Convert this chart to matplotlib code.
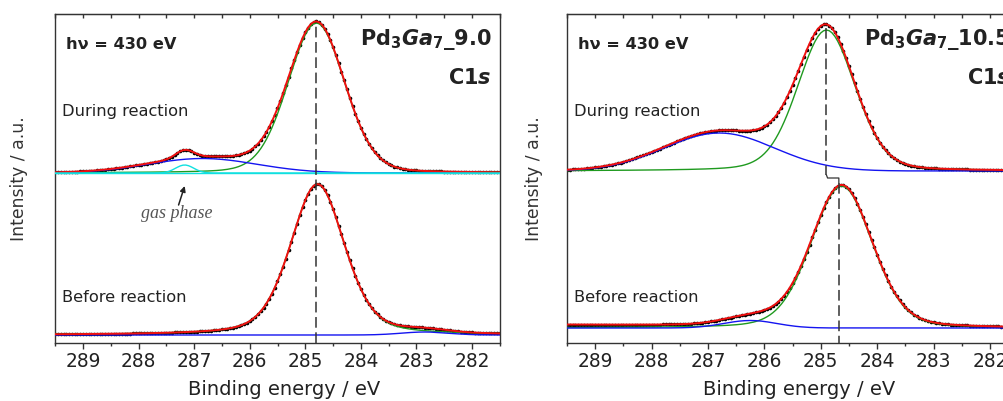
import numpy as np
import matplotlib.pyplot as plt
from matplotlib.ticker import MultipleLocator

plt.rcParams['font.family'] = ['DejaVu Sans']
plt.rcParams['mathtext.fontset'] = 'custom'
plt.rcParams['mathtext.rm'] = 'DejaVu Sans'
plt.rcParams['mathtext.bf'] = 'DejaVu Sans:bold'
plt.rcParams['mathtext.it'] = 'DejaVu Sans:italic'
plt.rcParams['mathtext.bfit'] = 'DejaVu Sans:italic:bold'

# binding energy window and step of the measured points (eV)
BE_HIGH, BE_LOW = 289.5, 281.5
BE_STEP = 0.05

# Pd3Ga7_9.0, C1s fit: position / FWHM / height / Lorentz fraction of each component
s90_during_pos = [284.80, 286.85, 287.17]      # main C, broad, gas phase
s90_during_fwhm = [1.20, 2.30, 0.38]
s90_during_height = [150.0, 14.5, 8.0]
s90_during_eta = [0.15, 0.0, 0.0]
s90_before_pos = [284.78, 282.85]              # main C, small low-BE species
s90_before_fwhm = [1.15, 1.00]
s90_before_height = [151.0, 3.0]
s90_before_eta = [0.35, 0.0]
s90_ref_be = [284.80]

# Pd3Ga7_10.5
s105_during_pos = [284.90, 286.80]
s105_during_fwhm = [1.20, 2.30]
s105_during_height = [141.0, 38.0]
s105_during_eta = [0.2, 0.0]
s105_before_pos = [284.63, 286.25]
s105_before_fwhm = [1.28, 1.10]
s105_before_height = [142.0, 7.5]
s105_before_eta = [0.2, 0.0]
s105_before_bg = [3.0, 0.0]                   # linear background at 289.5 / 281.5 eV
s105_ref_be = [284.90, 284.68]

RED = '#f01010'
GREEN = '#1f9a1f'
BLUE = '#1414f0'
CYAN = '#10e0e0'
INK = '#222222'
DASH = '#333333'


def pseudo_voigt(be, pos, fwhm, height, eta):
    x = (be - pos) / fwhm
    gauss = np.exp(-4 * np.log(2) * x ** 2)
    lorentz = 1 / (1 + 4 * x ** 2)
    return height * (eta * lorentz + (1 - eta) * gauss)


def draw_spectrum(ax, be, offset, pos, fwhm, height, eta, colors, bg=(0.0, 0.0)):
    comps = [pseudo_voigt(be, p, w, h, e) for p, w, h, e in zip(pos, fwhm, height, eta)]
    background = bg[1] + (bg[0] - bg[1]) * (be - BE_LOW) / (BE_HIGH - BE_LOW)
    envelope = np.sum(comps, axis=0) + background
    ax.plot(be, envelope + offset, 'o', ms=2.6, color='black', mec='none', zorder=2)
    for c, col in zip(comps, colors):
        z = 5 if col == CYAN else 3
        ax.plot(be, c + offset, color=col, lw=1.0, zorder=z)
    ax.plot(be, envelope + offset, color=RED, lw=1.4, zorder=4)


def style_axes(ax):
    ax.set_xlim(BE_HIGH, BE_LOW)
    ax.set_ylim(0, 329)
    ax.set_yticks([])
    ax.xaxis.set_major_locator(MultipleLocator(1))
    ax.xaxis.set_minor_locator(MultipleLocator(0.5))
    ax.tick_params(axis='x', which='major', direction='out', length=4, width=1,
                   color='#333333', labelsize=13.4, labelcolor=INK, pad=2.5)
    ax.tick_params(axis='x', which='minor', direction='out', length=2.3, width=1,
                   color='#333333')
    for sp in ax.spines.values():
        sp.set_color('#333333')
        sp.set_linewidth(1.0)
    top = ax.secondary_xaxis('top')
    top.xaxis.set_major_locator(MultipleLocator(1))
    top.xaxis.set_minor_locator(MultipleLocator(0.5))
    top.tick_params(which='both', direction='in', length=3, width=1,
                    color='#333333', labeltop=False)
    top.spines['top'].set_color('#333333')
    ax.set_xlabel('Binding energy / eV', fontsize=14, color=INK)
    ax.xaxis.set_label_coords(0.515, -0.112)
    ax.set_ylabel('Intensity / a.u.', fontsize=12.4, color='#333333')


fig = plt.figure(figsize=(10.04, 4.01), dpi=100)
ax_l = fig.add_axes([55.2 / 1004, 58 / 401, 444.6 / 1004, 329 / 401])
ax_r = fig.add_axes([567 / 1004, 58 / 401, 451.2 / 1004, 329 / 401])

be = np.arange(BE_LOW, BE_HIGH + BE_STEP / 2, BE_STEP)

# left panel
style_axes(ax_l)
ax_l.yaxis.set_label_coords(-0.061, 0.5)
draw_spectrum(ax_l, be, 170, s90_during_pos, s90_during_fwhm, s90_during_height,
              s90_during_eta, [GREEN, BLUE, CYAN])
ax_l.plot(be, np.zeros_like(be) + 170, color=CYAN, lw=1.0, zorder=5)
draw_spectrum(ax_l, be, 8, s90_before_pos, s90_before_fwhm, s90_before_height,
              s90_before_eta, [GREEN, BLUE])
ax_l.plot([s90_ref_be[0], s90_ref_be[0]], [0, 321], color=DASH, lw=1.1,
          dashes=(7, 3), zorder=6)
ax_l.annotate('', xy=(287.17, 157), xytext=(287.28, 138),
              arrowprops=dict(arrowstyle='-|>', color=INK, lw=1.1,
                              mutation_scale=8, shrinkA=0, shrinkB=0))
ax_l.text(287.31, 130, 'gas phase', ha='center', va='center', fontsize=13,
          color='#555555', family='Liberation Serif', style='italic')

# right panel
style_axes(ax_r)
ax_r.yaxis.set_label_coords(-0.054, 0.5)
draw_spectrum(ax_r, be, 172, s105_during_pos, s105_during_fwhm, s105_during_height,
              s105_during_eta, [GREEN, BLUE])
draw_spectrum(ax_r, be, 15, s105_before_pos, s105_before_fwhm, s105_before_height,
              s105_before_eta, [GREEN, BLUE], bg=s105_before_bg)
ax_r.plot([s105_ref_be[0], s105_ref_be[0]], [315, 168], color=DASH, lw=1.1,
          dashes=(7, 3), zorder=6)
ax_r.plot([s105_ref_be[0], s105_ref_be[0] - 0.02, s105_ref_be[1], s105_ref_be[1]],
          [168, 165, 165, 160], color=DASH, lw=0.9, zorder=6)
ax_r.plot([s105_ref_be[1], s105_ref_be[1]], [160, 0], color=DASH, lw=1.1,
          dashes=(7, 3), zorder=6)

titles = [r'$\mathbf{Pd}_\mathbf{3}\mathbfit{Ga}_\mathbf{7}\mathbf{\_9.0}$',
          r'$\mathbf{Pd}_\mathbf{3}\mathbfit{Ga}_\mathbf{7}\mathbf{\_10.5}$']
for ax, title in zip([ax_l, ax_r], titles):
    ax.text(0.024, 0.906, 'h\u03bd = 430 eV', transform=ax.transAxes, fontsize=11.7,
            fontweight='bold', color=INK, va='center', ha='left')
    ax.text(0.982, 0.921, title, transform=ax.transAxes, fontsize=15,
            color=INK, va='center', ha='right')
    ax.text(0.982, 0.805, r'$\mathbf{C1}\mathbfit{s}$', transform=ax.transAxes,
            fontsize=15, color=INK, va='center', ha='right')
    ax.text(0.016, 0.705, 'During reaction', transform=ax.transAxes, fontsize=11.7,
            color=INK, va='center', ha='left')
    ax.text(0.016, 0.137, 'Before reaction', transform=ax.transAxes, fontsize=11.7,
            color=INK, va='center', ha='left')

fig.savefig('out.png', dpi=100)
